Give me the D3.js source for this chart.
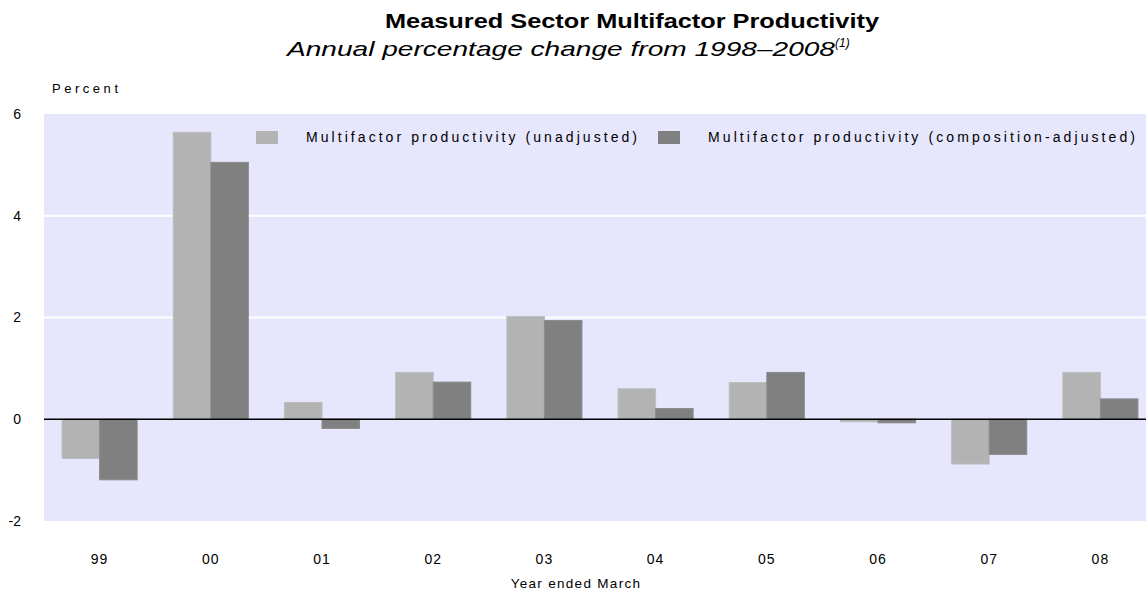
<!DOCTYPE html>
<html>
<head>
<meta charset="utf-8">
<script src="https://cdn.jsdelivr.net/npm/d3@7"></script>
<style>
  html, body { margin: 0; padding: 0; background: #ffffff; }
  svg { display: block; }
  text { font-family: "Liberation Sans", Arial, sans-serif; fill: #000; }
</style>
</head>
<body>
<svg id="chart" width="1146" height="593"></svg>
<script>
const categories = ["99", "00", "01", "02", "03", "04", "05", "06", "07", "08"];
const seriesNames = ["Multifactor productivity (unadjusted)", "Multifactor productivity (composition-adjusted)"];
const unadjusted = [-0.77, 5.64, 0.33, 0.92, 2.02, 0.60, 0.72, -0.05, -0.88, 0.92];
const compositionAdjusted = [-1.19, 5.05, -0.18, 0.73, 1.94, 0.21, 0.92, -0.07, -0.69, 0.40];
const yTicks = [-2, 0, 2, 4, 6];
const seriesColors = ["#b3b3b3", "#808080"];

const svg = d3.select("#chart");
const plot = { left: 44, right: 1156, top: 114, bottom: 521 };

const x0 = d3.scaleBand().domain(categories).range([plot.left, plot.right])
  .paddingInner(0.325).paddingOuter(0.1625);
const x1 = d3.scaleBand().domain([0, 1]).range([0, x0.bandwidth()]);
const y = d3.scaleLinear().domain([-2, 6]).range([plot.bottom, plot.top]);

// plot background
svg.append("rect").attr("x", plot.left).attr("y", plot.top)
  .attr("width", plot.right - plot.left).attr("height", plot.bottom - plot.top)
  .attr("fill", "#e6e6fc");

// gridlines
svg.append("g").selectAll("line").data(yTicks.filter(t => t > 0 && t < 6)).join("line")
  .attr("x1", plot.left).attr("x2", plot.right)
  .attr("y1", d => y(d)).attr("y2", d => y(d))
  .attr("stroke", "#ffffff").attr("stroke-width", 2);

// y tick labels
const yAxis = d3.axisLeft(y).tickValues(yTicks).tickSize(0).tickPadding(0)
  .tickFormat(d => d < 0 ? "-" + Math.abs(d) : String(d));
const yg = svg.append("g").attr("transform", "translate(21,0)").call(yAxis);
yg.select(".domain").remove();
yg.selectAll("text").attr("font-size", 14).attr("font-family", "Liberation Sans, Arial, sans-serif").attr("fill", "#000");

// bars
const data = categories.map((c, i) => ({ c, vals: [unadjusted[i], compositionAdjusted[i]] }));
const groups = svg.append("g").selectAll("g").data(data).join("g")
  .attr("transform", d => `translate(${x0(d.c)},0)`);
groups.selectAll("rect").data(d => d.vals.map((v, k) => ({ v, k }))).join("rect")
  .attr("x", d => x1(d.k))
  .attr("width", x1.bandwidth())
  .attr("y", d => y(Math.max(0, d.v)))
  .attr("height", d => Math.abs(y(d.v) - y(0)))
  .attr("fill", d => seriesColors[d.k])
  .attr("stroke", d => d.k === 0 ? "#bdbdbd" : "#8a8a8a")
  .attr("stroke-width", 1);

// zero line
svg.append("line").attr("x1", plot.left).attr("x2", plot.right)
  .attr("y1", y(0)).attr("y2", y(0)).attr("stroke", "#000").attr("stroke-width", 1.6);

// x labels
const xAxis = d3.axisBottom(x0).tickSize(0).tickPadding(0);
const xg = svg.append("g").attr("transform", "translate(0,560)").call(xAxis);
xg.select(".domain").remove();
xg.selectAll("text").attr("font-size", 14).attr("dy", "0.32em")
  .attr("font-family", "Liberation Sans, Arial, sans-serif").attr("fill", "#000")
  .attr("letter-spacing", 1);

// axis titles
svg.append("text").attr("x", 576).attr("y", 588).attr("text-anchor", "middle")
  .attr("font-size", 13.5).attr("letter-spacing", 1.3).text("Year ended March");
svg.append("text").attr("x", 52).attr("y", 93).attr("font-size", 13)
  .attr("textLength", 66).attr("lengthAdjust", "spacing").text("Percent");

// titles
svg.append("text").attr("x", 632).attr("y", 28).attr("text-anchor", "middle")
  .attr("font-size", 21).attr("font-weight", "bold")
  .attr("textLength", 494).attr("lengthAdjust", "spacingAndGlyphs")
  .text("Measured Sector Multifactor Productivity");
const sub = svg.append("text").attr("x", 287).attr("y", 56).attr("font-size", 21)
  .attr("font-style", "italic");
sub.append("tspan").attr("textLength", 548).attr("lengthAdjust", "spacingAndGlyphs")
  .text("Annual percentage change from 1998\u20132008");
sub.append("tspan").attr("font-size", 12).attr("dy", -9).text("(1)");

// legend
const legendItems = [
  { name: seriesNames[0], color: seriesColors[0], sx: 256, tx: 306, tw: 331 },
  { name: seriesNames[1], color: seriesColors[1], sx: 658, tx: 708, tw: 427 }
];
const lg = svg.append("g");
legendItems.forEach(it => {
  lg.append("rect").attr("x", it.sx).attr("y", 131).attr("width", 22).attr("height", 13)
    .attr("fill", it.color);
  lg.append("text").attr("x", it.tx).attr("y", 142).attr("font-size", 14)
    .attr("textLength", it.tw).attr("lengthAdjust", "spacing").text(it.name);
});
</script>
</body>
</html>
